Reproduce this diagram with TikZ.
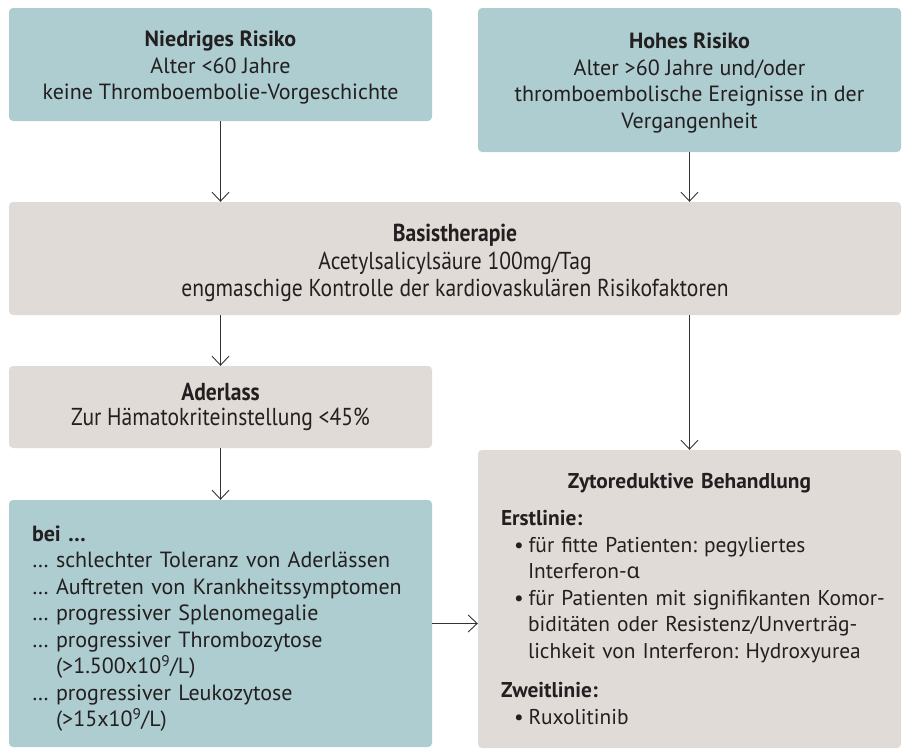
\documentclass[tikz,border=0pt]{standalone}
\usepackage{fontspec}
\setmainfont{PT Sans}
\newfontfamily\condfont[FakeStretch=0.88]{PT Sans}
\newfontfamily\greekfont{Noto Sans}
\usetikzlibrary{arrows.meta}
\definecolor{teal1}{HTML}{ADCDD0}
\definecolor{beige1}{HTML}{E1DBD7}
\definecolor{ink}{HTML}{231F20}
\definecolor{arr}{HTML}{333333}
\tikzset{
  boxbase/.style={rounded corners=4pt, inner sep=0pt, text=ink, align=center,
    font=\frenchspacing\fontsize{22}{26.5}\selectfont},
  tealbox/.style={boxbase, fill=teal1},
  beigebox/.style={boxbase, fill=beige1},
  conn/.style={draw=arr, line width=0.9pt, -{Straight Barb[length=9pt,width=17pt,line width=0.9pt]}}
}
\begin{document}
\begin{tikzpicture}[x=1pt,y=-1pt]
\useasboundingbox (0,0) rectangle (903,748);
\node[tealbox, minimum width=423pt, minimum height=113pt] (nr) at (220.5,64.5)
  {\rule{0pt}{22pt}{\bfseries Niedriges Risiko}\\Alter <60 Jahre\\keine Thromboembolie-Vorgeschichte};
\node[tealbox, minimum width=423pt, minimum height=144pt] (hr) at (689.5,80)
  {\rule{0pt}{22pt}{\bfseries Hohes Risiko}\\Alter >60 Jahre und/oder\\thromboembolische Ereignisse in der\\Vergangenheit};
\node[beigebox, minimum width=892pt, minimum height=113pt, font=\condfont\fontsize{24.5}{27.5}\selectfont] (basis) at (455,258.5)
  {\rule{0pt}{27pt}{\bfseries Basistherapie}\\Acetylsalicylsäure 100mg/Tag\\engmaschige Kontrolle der kardiovaskulären Risikofaktoren};
\node[beigebox, minimum width=423pt, minimum height=82pt, font=\condfont\fontsize{24.5}{25.5}\selectfont] (ader) at (220.5,407)
  {{\bfseries Aderlass}\\Zur Hämatokriteinstellung <45\%};
\node[tealbox, minimum width=423pt, minimum height=247pt, text width=377pt, align=left] (bei) at (220.5,623.5)
  {\rule{0pt}{26pt}{\bfseries bei …}\\
   … schlechter Toleranz von Aderlässen\\
   … Auftreten von Krankheitssymptomen\\
   … progressiver Splenomegalie\\
   … progressiver Thrombozytose\\
   \phantom{… }(>1.500x10\textsuperscript{9}/L)\\
   … progressiver Leukozytose\\
   \phantom{… }(>15x10\textsuperscript{9}/L)};
\node[beigebox, minimum width=423pt, minimum height=298pt, text width=377pt, align=left,
      font=\frenchspacing\fontsize{21.4}{26.5}\selectfont] (zyto) at (689.5,599)
  {\makebox[\linewidth][c]{\bfseries Zytoreduktive Behandlung}\\[11pt]
   {\bfseries Erstlinie:}\\
   \mbox{\hspace*{13pt}•\hspace{5pt}für fitte Patienten: pegyliertes}\\
   \mbox{\hspace*{27pt}Interferon-{\greekfont α}}\\
   \mbox{\hspace*{13pt}•\hspace{5pt}für Patienten mit signifikanten Komor-}\\
   \mbox{\hspace*{27pt}biditäten oder Resistenz/Unverträg-}\\
   \mbox{\hspace*{27pt}lichkeit von Interferon: Hydroxyurea}\\[13pt]
   {\bfseries Zweitlinie:}\\
   \mbox{\hspace*{13pt}•\hspace{5pt}Ruxolitinib}};
\draw[conn] (nr.south) -- (nr.south |- basis.north);
\draw[conn] (hr.south) -- (hr.south |- basis.north);
\draw[conn] (ader.north |- basis.south) -- (ader.north);
\draw[conn] (zyto.north |- basis.south) -- (zyto.north);
\draw[conn] (ader.south) -- (bei.north);
\draw[conn] (bei.east) -- (bei.east -| zyto.west);
\end{tikzpicture}
\end{document}
